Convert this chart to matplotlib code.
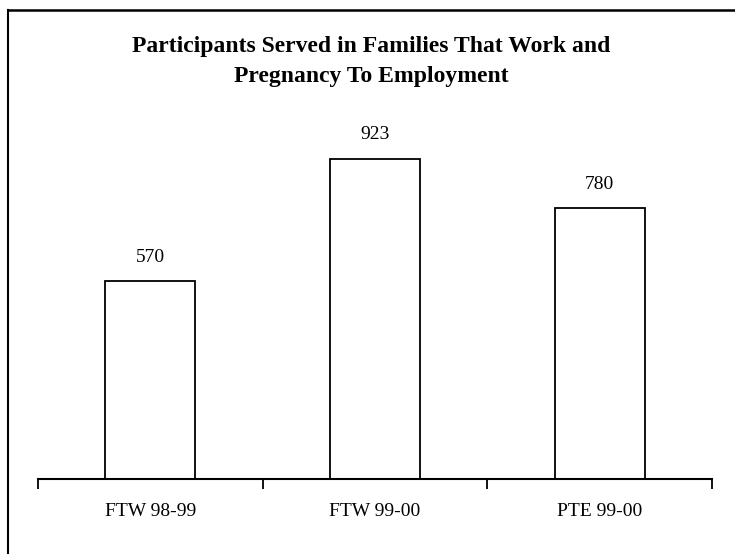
import numpy as np
import matplotlib
matplotlib.use("Agg")
import matplotlib.pyplot as plt
from matplotlib.lines import Line2D

plt.rcParams['font.family'] = ['Liberation Serif', 'DejaVu Serif']

programs = ["FTW 98-99", "FTW 99-00", "PTE 99-00"]
participants = [570, 923, 780]
title = "Participants Served in Families That Work and\nPregnancy To Employment"

fig = plt.figure(figsize=(7.35, 5.54), dpi=100)
ax = fig.add_axes([0.0517, 0.1354, 0.917, 0.6263])

x = np.arange(len(programs))
bars = ax.bar(x, participants, width=0.40, color="white",
              edgecolor="black", linewidth=1.3)

for xi, v in zip(x, participants):
    ax.annotate("%d" % v, (xi, v), xytext=(0, 11), textcoords="offset points",
                ha="center", va="bottom", fontsize=14)

ax.set_xlim(-0.5, len(programs) - 0.5)
ax.set_ylim(0, 1000)

# category labels centred, tick marks between categories
ax.set_xticks(x)
ax.set_xticklabels(programs, fontsize=14)
ax.tick_params(axis="x", which="major", length=0, pad=17)
ax.set_xticks(np.arange(-0.5, len(programs)), minor=True)
ax.tick_params(axis="x", which="minor", length=7, width=1.3, direction="out")
ax.set_yticks([])
for side in ["top", "right", "left"]:
    ax.spines[side].set_visible(False)
ax.spines["bottom"].set_linewidth(1.5)

fig.text(0.505, 0.889, title, ha="center", va="center", fontsize=17,
         fontweight="bold", linespacing=1.6)

# frame around the chart area
fig.add_artist(Line2D([8 / 735, 8 / 735], [0, 1 - 10 / 554], color="black",
                      linewidth=1.5, transform=fig.transFigure))
fig.add_artist(Line2D([8 / 735, 1], [1 - 10 / 554, 1 - 10 / 554],
                      color="black", linewidth=1.8, transform=fig.transFigure))

fig.savefig("out.png", dpi=100)
